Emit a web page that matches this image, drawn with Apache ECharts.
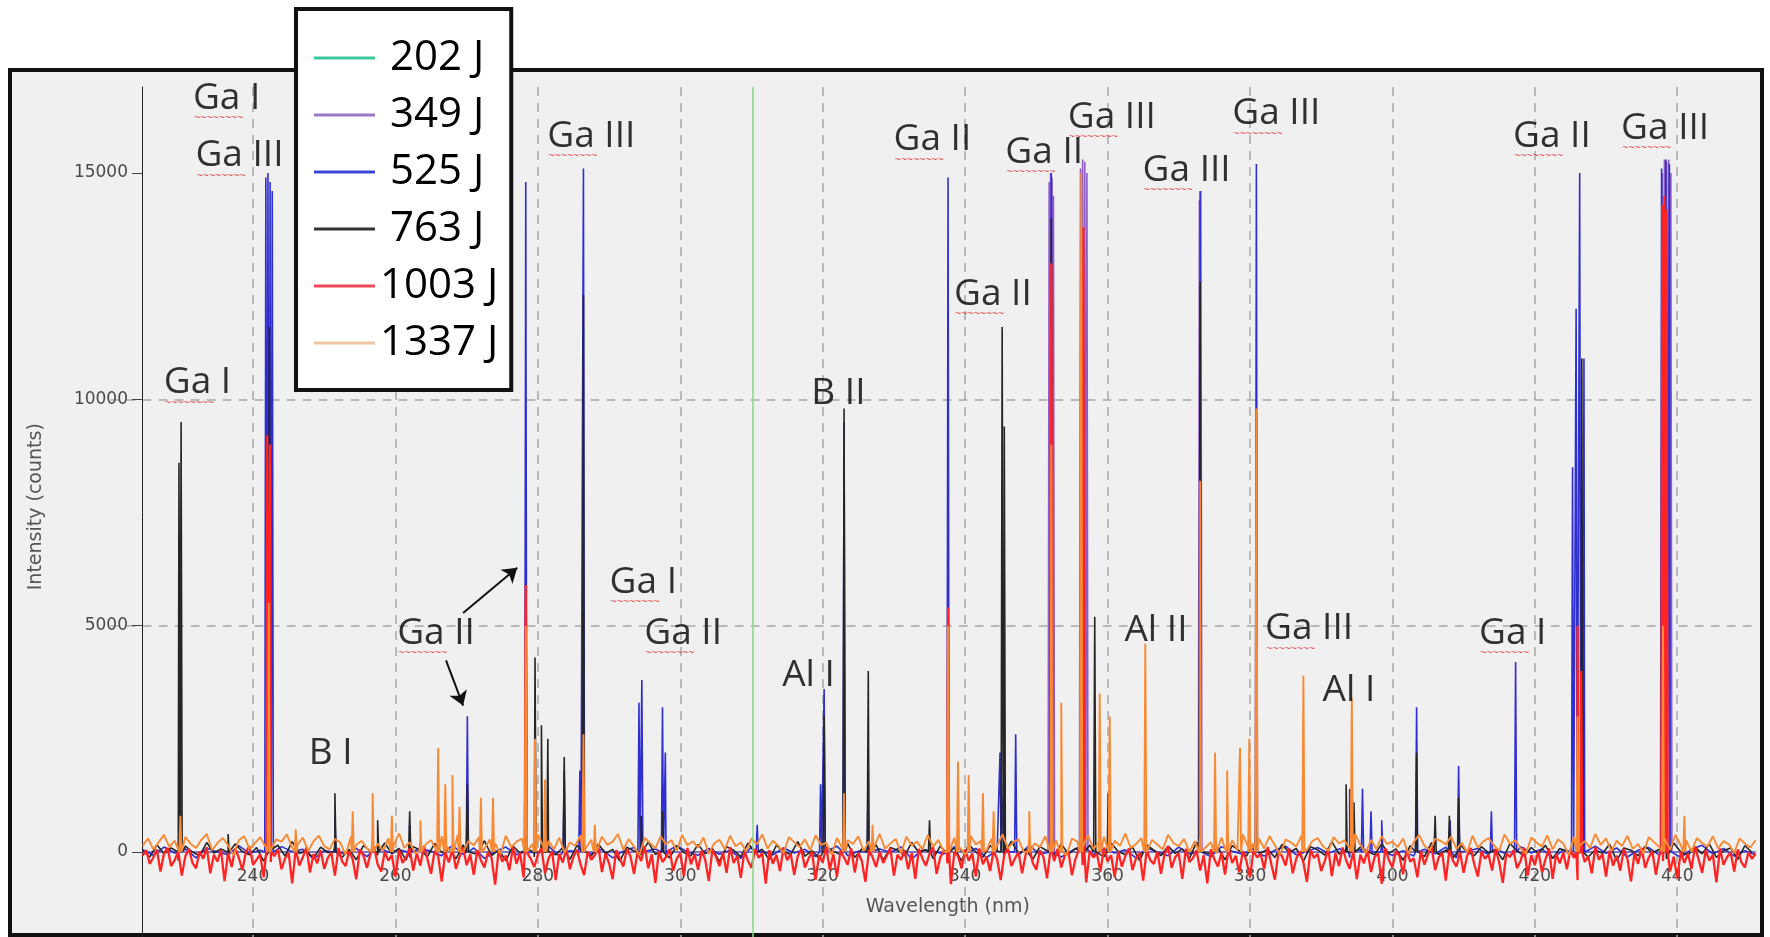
<!DOCTYPE html>
<html>
<head>
<meta charset="utf-8">
<script src="https://cdn.jsdelivr.net/npm/echarts@6/dist/echarts.min.js"></script>
<style>html,body{margin:0;padding:0;background:#fff;}#c{width:1770px;height:937px;}</style>
</head>
<body>
<div id="c"></div>
<script>
// ---------- data ----------
const seriesNames = ['202 J', '349 J', '525 J', '763 J', '1003 J', '1337 J'];
const xTicks = [240, 260, 280, 300, 320, 340, 360, 380, 400, 420, 440];
const yTicks = [0, 5000, 10000, 15000];
const noiseStart = 224.5; // nm, first baseline sample

// baseline readings (counts), evenly sampled from noiseStart
const noiseRedStep = 0.5;
const noiseRed = [
-80,40,-260,-120,60,-430,-30,90,-310,-180, 20,-520,-90,70,-240,-360,10,-150,110,-470,
-60,-210,50,-640,-20,-330,80,-120,-400,0, 130,-280,-170,-50,-560,30,-220,-90,60,-380,
-140,-20,-690,70,-300,-110,100,-450,-40,-250, 40,-370,-130,-10,-520,90,-200,-310,20,-160,
-600,60,-80,-350,-30,120,-270,-430,10,-190, -70,-540,50,-240,-120,80,-410,-20,-300,140,
-160,-480,30,-90,-650,-10,-230,70,-370,-110, 100,-290,-50,-500,40,-180,-340,0,-130,-720,
60,-210,-80,-400,110,-260,-20,-560,30,-150, -330,-60,90,-470,-140,20,-620,-40,-230,80,
-380,-100,50,-280,-510,10,-170,-70,120,-440, -30,-250,-600,40,-140,-320,70,-90,-480,0,
-200,130,-360,-50,-680,20,-220,-110,60,-410, -150,-20,-530,90,-270,-40,-390,30,-170,-640,
50,-100,-310,-10,-460,110,-240,-80,-570,20, -190,-350,70,-130,-20,-700,40,-260,-60,-420,
100,-180,-30,-500,-90,60,-340,-150,10,-610, -70,-230,120,-390,-40,-550,30,-120,-280,80,
-450,-10,-200,-660,50,-110,-330,0,-240,-80, 90,-520,-60,-170,40,-380,-20,-590,70,-140,
-300,-40,110,-480,-120,20,-250,-710,10,-90, -360,60,-190,-30,-540,80,-270,-100,-420,30,
-160,-620,-50,90,-310,-140,0,-470,-60,120, -240,-390,40,-110,-580,-20,-200,70,-340,-80,
10,-510,-150,60,-290,-670,30,-120,-30,-430, 100,-210,-70,-550,20,-320,-90,80,-400,-140,
-20,-630,50,-180,-260,10,-480,-50,130,-350, -110,-30,-590,70,-220,-130,40,-410,-70,-690,
60,-160,-320,-10,-500,90,-240,-80,-450,20, -190,-560,30,-120,-40,-380,110,-270,-610,0,
-90,-300,80,-470,-150,20,-230,-660,50,-130, -40,-420,-200,70,-530,-20,-310,100,-180,-370,
10,-600,-60,-250,40,-440,-110,-30,-700,80, -170,-340,20,-90,-490,60,-210,-140,-560,30,
-280,-50,120,-400,-120,-20,-630,50,-190,-320, 0,-460,-80,90,-270,-540,10,-150,-60,-410,
70,-230,-680,-30,-110,40,-360,-200,100,-520, -70,-290,20,-440,-160,80,-590,-40,-250,-10,
-380,60,-130,-620,0,-220,-90,-470,110,-170, -40,-540,30,-300,-80,-410,70,-150,-650,-20,
-260,90,-350,-120,20,-500,-60,-200,50,-430, -100,-580,10,-240,-30,-370,120,-160,-460,40,
-190,-60,-670,80,-280,-110,-10,-430,60,-220, -340,0,-150,-30
];
const noiseOrangeStep = 0.75;
const noiseOrange = [
140,300,60,220,380,110,250,-40,330,180, 90,270,400,40,200,310,150,-80,260,350,
70,190,330,120,-20,280,230,390,100,170, 320,20,240,360,130,60,290,210,-60,340,
160,250,80,370,190,30,300,140,410,90, 220,-30,310,170,260,50,350,120,200,380,
0,240,150,330,70,280,190,-50,360,110, 230,300,40,180,390,130,250,60,320,-10,
210,140,370,90,270,20,340,160,230,400, 50,290,120,-70,310,200,80,350,170,260,
30,380,150,240,100,320,-40,190,270,60, 360,130,210,10,300,170,390,80,250,140,
-20,330,220,110,280,40,370,160,200,-60, 310,90,260,180,350,20,240,130,400,70,
190,290,-30,340,150,230,60,380,120,270, 10,210,320,100,-50,360,170,250,40,300,
140,390,80,220,280,-10,330,190,110,350, 50,260,160,-70,300,230,120,370,70,200,
340,20,250,140,410,90,180,310,-40,270, 160,60,380,200,130,290,0,240,350,100,
220,-30,320,170,260,40,390,110,190,300, 80,350,150,-60,280,210,120,370,50,240,
310,130,20,330,190,260,90,400,160,-20, 270,60,350,180,230,110,300,-50,220,380,
140,40,290,250,170,340,70,200,-10,360, 100,230,310,150,30,390,180,260,80,-40,
320,210,120,370,60,280,190,-70,340,140, 240,90,400,160,300,20,250,130,360,70,
180,-30,330,220,110,290,50,380,150,260, 10,310,200,120,350,80,240,170,-20,300,
190,100,260
];
const noiseBlackStep = 1.0;
const noiseBlack = [
40,-110,160,-40,90,-190,130,0,-80,210, -20,70,-160,180,10,-60,100,-200,50,150,
-90,230,-30,30,-140,110,-10,170,-120,60, -170,140,20,-70,200,-40,80,-180,120,40,
-100,190,-10,90,-150,160,0,-50,250,-80, 50,-190,130,-20,70,-110,210,10,-60,100,
-160,150,30,-90,180,-30,60,-200,110,20, -70,220,-50,90,-130,140,-10,-80,170,-40,
80,-210,120,40,-100,200,-20,60,-170,150, 0,-50,230,-90,30,-140,110,20,-60,190,
-120,70,-30,160,-180,100,40,-80,210,-10, 50,-150,130,-40,90,-200,170,0,-110,140,
20,-70,240,-30,60,-160,120,30,-90,180, -50,80,-130,150,-20,-100,200,10,-60,110,
-190,160,40,-80,130,-30,70,-140,220,0, -40,100,-170,140,30,-90,190,-20,60,-120,
170,-10,80,-200,120,50,-70,230,-40,90, -150,110,10,-60,180,-30,70,-180,140,20,
-100,210,-50,40,-130,160,0,-80,120,-20, 60,-170,190,30,-90,100,-40,150,-140,80,
10,-60,220,-110,50,-30,170,-190,90,40, -80,130,-20,60,-150,200,0,-70,110,-40,
180,-120,30,90,-160,140,-10
];
const noiseBlueStep = 1.5;
const noiseBlue = [
50,-70,110,-20,70,-130,90,0,-60,140, -30,40,-110,120,10,60,-150,30,100,-40,
80,-100,130,-10,50,-120,70,20,-80,150, -50,90,-140,10,110,-60,40,-20,130,-90,
30,120,-40,60,-130,20,100,-30,70,-110, 140,0,-70,80,-50,40,-140,110,10,-60,
90,-20,60,-100,30,130,-80,20,-90,70, -10,110,-150,50,20,-40,120,-30,80,-120,
40,10,-70,140,-50,60,-110,30,150,-60, 70,-20,50,-130,90,0,-80,110,-40,60,
-100,120,20,-50,80,-90,40,130,-60,10, 100,-30,70,-120,50,-10,140,-70,30,-90,
60,-40,110,-130,20,80,-60,40,-100,120, -20,70,-140,50,10,-50,130,-30,90,-110,
40,100,-70,20,-120,60,150,-40,80,-90, 30,-60
];

// emission lines: [wavelength nm, intensity counts]
const peaks202 = [[438.2, 4000]];
const peaks349 = [
[351.8,14800],[352.0,15000],[352.2,14900],[352.4,14500],[356.2,15100],[356.5,15300],[356.8,15250],[357.1,15000],
[372.9,14400],[373.1,14600],[437.9,15000],[438.2,15300],[438.5,15250],[438.8,15300],[439.1,15000]
];
const peaks525 = [
[229.8,2600],[241.8,14900],[242.1,15000],[242.4,14800],[242.7,14600],[251.5,800],[262.0,600],[270.1,3000],[278.3,14800],[283.7,1800],
[285.9,1800],[286.4,15100],[294.2,3300],[294.6,3800],[297.5,3200],[297.9,2200],[310.8,600],[319.7,1500],
[320.2,3600],[323.0,9500],[326.4,2000],[337.6,14900],[344.9,2200],[345.4,1500],[347.1,2600],[352.1,15000],
[373.0,14600],[380.9,15200],[394.0,1400],[395.8,1400],[397.0,900],[398.5,700],[403.4,3200],[408.1,700],
[409.3,1900],[413.9,900],[417.3,4200],[425.3,8500],[425.8,12000],[426.3,15000],[426.9,10900],[437.8,15100],[438.4,15300],[438.9,15200]
];
const peaks763 = [
[229.6,8600],[229.9,9500],[236.5,400],[242.3,11600],[251.5,1300],[257.5,700],[262.0,900],[270.1,1500],
[279.6,4300],[280.5,2800],[281.4,2500],[283.7,2100],[286.4,12300],[294.5,800],[297.5,900],[320.2,3000],
[323.0,9800],[326.4,4000],[335.0,700],[345.2,11600],[345.5,9400],[352.1,14000],[356.6,11000],[358.2,5200],
[360.1,1300],[373.0,12600],[380.9,2000],[393.5,1500],[394.6,1100],[403.4,2200],[406.0,800],[408.0,800],
[409.3,1200],[426.6,10900],[438.3,12500]
];
const peaks1003 = [[242.0,9200],[242.4,9000],[278.3,5900],[337.6,5400],[352.1,13000],[356.6,13800],[426.0,5000],[426.5,4000],[437.9,14300],[438.2,14500],[438.5,14200]];
const peaks1337 = [
[229.8,800],[242.2,5500],[246.0,500],[254.0,900],[256.8,1300],[259.5,800],[263.5,700],[266.0,2300],
[267.0,1500],[268.0,1700],[269.0,1000],[272.0,1200],[273.7,1200],[278.3,5000],[279.6,2500],[281.0,1600],
[286.4,2600],[288.0,600],[323.0,1300],[327.0,600],[337.6,5000],[339.0,2000],[340.5,1700],[342.5,1300],
[344.0,900],[349.0,900],[352.1,9000],[353.5,3300],[356.3,15000],[358.9,3500],[360.3,3000],[365.3,4600],
[373.0,8200],[375.1,2200],[376.8,1800],[378.6,2300],[379.9,2500],[380.9,9800],[387.5,3900],[394.3,3400],
[426.0,3000],[438.0,5000],[441.0,800]
];
const cursorWavelength = 310.2;

// line identifications: [text, wavelength, intensity]
const annotations = [
['Ga I',236.3,16676],['Ga III',238.1,15404],['Ga I',232.2,10392],['Ga III',287.5,15828],
['Ga II',265.7,4856],['B I',250.9,2238],['Ga I',294.8,5978],['Ga II',300.4,4856],
['Al I',318.0,3959],['B II',322.2,10193],['Ga II',335.4,15753],['Ga II',343.9,12337],
['Ga II',351.1,15479],['Ga III',360.6,16252],['Ga III',371.1,15080],['Ga III',383.7,16327],
['Al II',366.8,4956],['Ga III',388.3,4956],['Al I',393.9,3634],['Ga I',416.9,4856],
['Ga II',422.4,15828],['Ga III',438.3,16003]
];
// arrows: [fromWl, fromI, toWl, toI]
const arrows = [[269.5,5280,277.1,6278],[267.1,4234,269.5,3235]];

// ---------- build ----------
const colors = ['#2fc4a0', '#8e5cc4', '#2f2fd0', '#262626', '#ff2424', '#f88a35'];
const legendColors = ['#3cc89c', '#9a78c8', '#3a46d8', '#333333', '#f04a5a', '#efc6a6'];
const widths = [1.6, 1.6, 1.6, 1.6, 2.3, 1.9];

function buildData(noise, step, peaks) {
  const pts = noise.map((v, i) => [+(noiseStart + i * step).toFixed(3), v]);
  if (!noise.length) { pts.push([noiseStart, 0], [451, 0]); }
  peaks.forEach(([w, h]) => { pts.push([w - 0.15, 0], [w, h], [w + 0.15, 0]); });
  pts.sort((a, b) => a[0] - b[0]);
  return pts;
}
const seriesData = [
  buildData([], 1, peaks202),
  buildData([], 1, peaks349),
  buildData(noiseBlue, noiseBlueStep, peaks525),
  buildData(noiseBlack, noiseBlackStep, peaks763),
  buildData(noiseRed, noiseRedStep, peaks1003),
  buildData(noiseOrange, noiseOrangeStep, peaks1337)
];

const lineSeries = seriesNames.map((n, i) => {
  const s = {
    name: n, type: 'line', data: seriesData[i], showSymbol: false, symbol: 'none',
    lineStyle: { width: widths[i], color: colors[i] }, itemStyle: { color: colors[i] },
    silent: true, animation: false, z: 2
  };
  if (i === 0) {
    s.markLine = {
      silent: true, symbol: ['none', 'none'], label: { show: false },
      lineStyle: { color: '#86d886', width: 1.5, type: 'solid' },
      data: [{ xAxis: cursorWavelength }]
    };
  }
  return s;
});

const txt = { fontFamily: 'Open Sans', fontSize: 37, color: '#000', align: 'left', lineHeight: 36 };
const noteSeries = {
  name: 'notes', type: 'scatter', symbolSize: 1, itemStyle: { color: 'rgba(0,0,0,0)' },
  silent: true, z: 5,
  data: annotations.map(a => [a[1], a[2], a[0]]),
  label: {
    show: true, position: 'inside', align: 'center', verticalAlign: 'middle', offset: [0, 3],
    formatter: p => {
      const t = p.data[2];
      if (t.indexOf('Ga') === 0) return '{g|Ga}{t|' + t.slice(2) + '}\n{w|~~~~~~~~}';
      return '{t|' + t + '}';
    },
    rich: {
      g: txt, t: txt,
      w: { fontFamily: 'Liberation Sans', fontSize: 10.5, color: '#e52222', align: 'left', lineHeight: 4, padding: [0, 0, 0, 1] }
    }
  },
  markLine: {
    silent: true, symbol: ['none', 'arrow'], symbolSize: 14, label: { show: false },
    lineStyle: { color: '#111', width: 2, type: 'solid' },
    data: arrows.map(a => [{ coord: [a[0], a[1]] }, { coord: [a[2], a[3]] }])
  }
};

const chart = echarts.init(document.getElementById('c'), null, { renderer: 'canvas' });
chart.setOption({
  animation: false,
  backgroundColor: '#ffffff',
  graphic: {
    elements: [{
      type: 'rect', z: -1, silent: true,
      shape: { x: 10, y: 70, width: 1752, height: 865 },
      style: { fill: '#f0f0f0', stroke: '#111', lineWidth: 4 }
    }]
  },
  grid: { left: 110.6, right: 13, top: 87, bottom: -141.4, outerBoundsMode: 'none', containLabel: false },
  legend: {
    orient: 'vertical', left: 296, top: 9, selectedMode: false,
    backgroundColor: '#ffffff', borderColor: '#111', borderWidth: 4, borderRadius: 0,
    padding: [28, 13, 26, 18],
    icon: 'rect', itemWidth: 61, itemHeight: 3, itemGap: 15, itemTextGap: 24,
    formatter: n => (n.length < 6 ? '{s|' + n + '}' : '{l|' + n + '}'),
    textStyle: {
      fontFamily: 'Open Sans', fontSize: 42, color: '#000', lineHeight: 40,
      rich: {
        s: { fontFamily: 'Open Sans', fontSize: 42, color: '#000', lineHeight: 40, padding: [0, 0, 0, 10] },
        l: { fontFamily: 'Open Sans', fontSize: 42, color: '#000', lineHeight: 40 }
      }
    },
    data: seriesNames.map((n, i) => ({ name: n, itemStyle: { color: legendColors[i] }, lineStyle: { color: legendColors[i] } }))
  },
  xAxis: {
    type: 'value', min: 220, max: 451.2, interval: 20, offset: -226.4,
    axisLine: { show: false, onZero: false },
    axisTick: { show: false },
    axisLabel: { margin: 16, fontFamily: 'DejaVu Sans', fontSize: 17, color: '#4a4a4a',
      formatter: v => xTicks.includes(v) ? String(v) : '' },
    splitLine: { show: true, showMinLine: false, showMaxLine: false, lineStyle: { type: [9, 7], color: '#a8a8a8', width: 1.5 } },
    name: 'Wavelength (nm)', nameLocation: 'middle', nameGap: 46,
    nameTextStyle: { fontFamily: 'DejaVu Sans', fontSize: 19, color: '#555', padding: [0, 0, 0, 28] }
  },
  yAxis: {
    type: 'value', min: -5000, max: 16900, interval: 5000, offset: -31.4,
    name: 'Intensity (counts)', nameLocation: 'middle', nameGap: 96,
    nameTextStyle: { fontFamily: 'DejaVu Sans', fontSize: 19, color: '#555', padding: [0, 0, 0, 152] },
    axisLine: { show: true, onZero: false, lineStyle: { color: '#222', width: 1 } },
    axisTick: { show: true, length: 10, customValues: yTicks, lineStyle: { color: '#444' } },
    axisLabel: { margin: 14, fontFamily: 'DejaVu Sans', fontSize: 17, color: '#4a4a4a',
      formatter: v => yTicks.includes(v) ? String(v) : '' },
    splitLine: { show: true, showMinLine: false, showMaxLine: false, lineStyle: { type: [9, 7], color: '#a8a8a8', width: 1.5 } }
  },
  series: lineSeries.concat([noteSeries])
});
</script>
</body>
</html>
